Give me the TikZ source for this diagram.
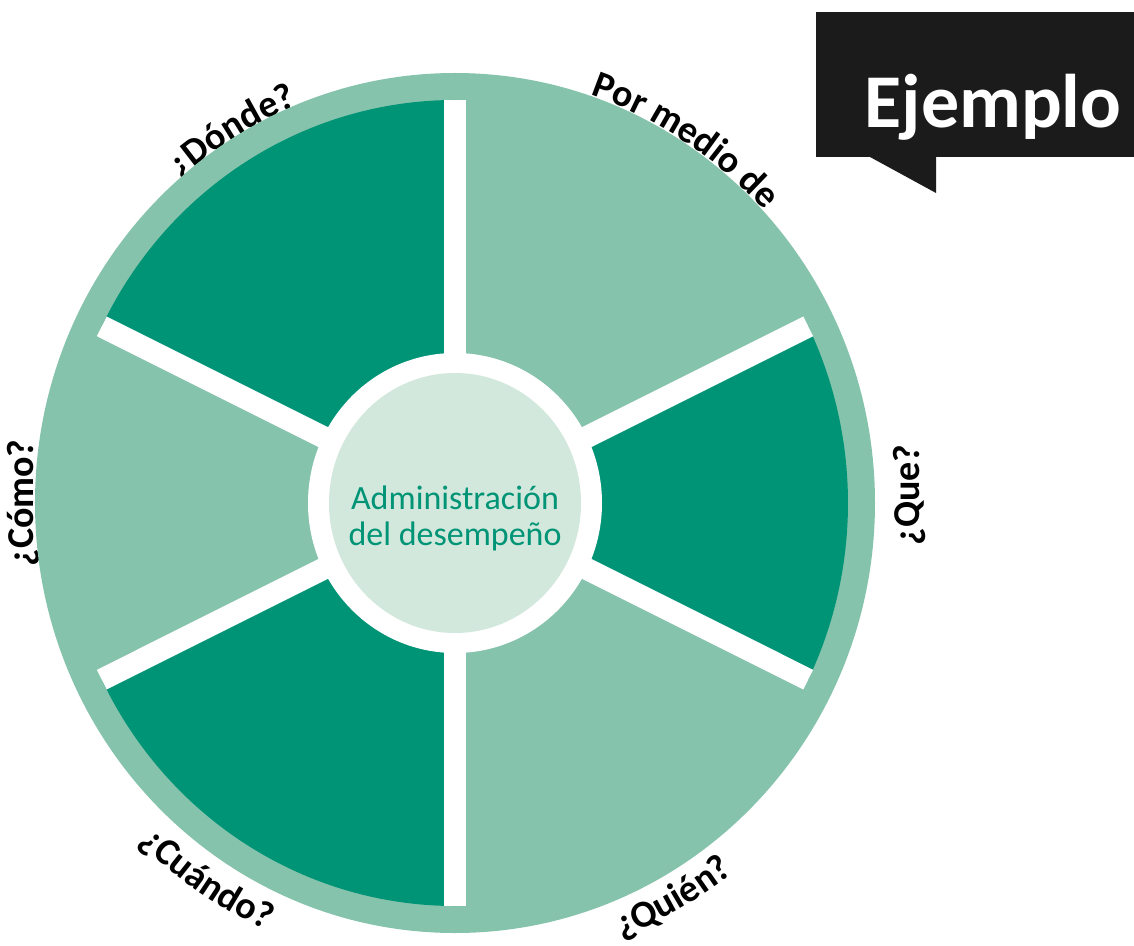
\documentclass[tikz,border=0pt]{standalone}
\usepackage{fontspec}
\setmainfont{Carlito}
\usetikzlibrary{decorations.text, shapes.geometric}

\definecolor{wheeldark}{HTML}{009476}
\definecolor{wheellight}{HTML}{86C3AC}
\definecolor{hubfill}{HTML}{D2E8DC}
\definecolor{tagblack}{HTML}{1B1B1B}
\newcommand{\qfont}{\fontsize{38}{44}\selectfont\bfseries}

\begin{document}
\begin{tikzpicture}[x=1pt, y=1pt,
  qlabel/.style={font=\qfont, text=black, inner sep=0pt},
  spoke/.style={white, line width=22pt}]
\useasboundingbox (-455,-442) rectangle (679,503);

% Question labels round the wheel
\path[decorate, decoration={text along path, text align=center, text={|\qfont|¿Dónde?}}]
  (136.5:419pt and 429pt) arc[start angle=136.5, end angle=106.5, x radius=419, y radius=429];
\path[decorate, decoration={text along path, text align=center, text={|\qfont|Por medio de}}]
  (76:421pt and 431pt) arc[start angle=76, end angle=38, x radius=421, y radius=431];
\path[decorate, decoration={text along path, text align=center, text={|\qfont|¿Cuándo?}}]
  (221:458pt and 469pt) arc[start angle=221, end angle=251, x radius=458, y radius=469];
\path[decorate, decoration={text along path, text align=center, text={|\qfont|¿Quién?}}]
  (284.5:456pt and 467pt) arc[start angle=284.5, end angle=314.5, x radius=456, y radius=467];
\node[qlabel, rotate=90] (como) at (-431,0) {¿Cómo?};
\node[qlabel, rotate=90] (que) at (454,8) {¿Que?};

% Outer ring
\fill[wheellight] (0,0) ellipse [x radius=420, y radius=430];

% Segments
\foreach \s/\e/\c in {26/90/wheellight, 90/154/wheeldark, 154/206/wheellight,
                      206/270/wheeldark, 270/334/wheellight, -26/26/wheeldark}
  \fill[\c] (0,0) -- (\s:393pt and 403pt) arc[start angle=\s, end angle=\e, x radius=393, y radius=403] -- cycle;
\foreach \a in {26,90,154,206,270,334}
  \draw[spoke] (0,0) -- (\a:393pt and 403pt);

% Hub
\fill[white] (0,0) ellipse [x radius=147, y radius=150];
\node[ellipse, fill=hubfill, minimum width=252pt, minimum height=260pt, inner sep=0pt] (hub) at (0,0) {};
\node[font=\fontsize{34}{36}\selectfont, text=wheeldark, align=center] (title) at (0,-15) {Administración\\del desempeño};

% Example tag
\fill[tagblack] (361,346) rectangle (679,491);
\fill[tagblack] (415,346) -- (481,310) -- (481,346) -- cycle;
\node[font=\fontsize{76}{80}\selectfont\bfseries, text=white, anchor=base] (tag) at (538,375) {Ejemplo};
\end{tikzpicture}
\end{document}
